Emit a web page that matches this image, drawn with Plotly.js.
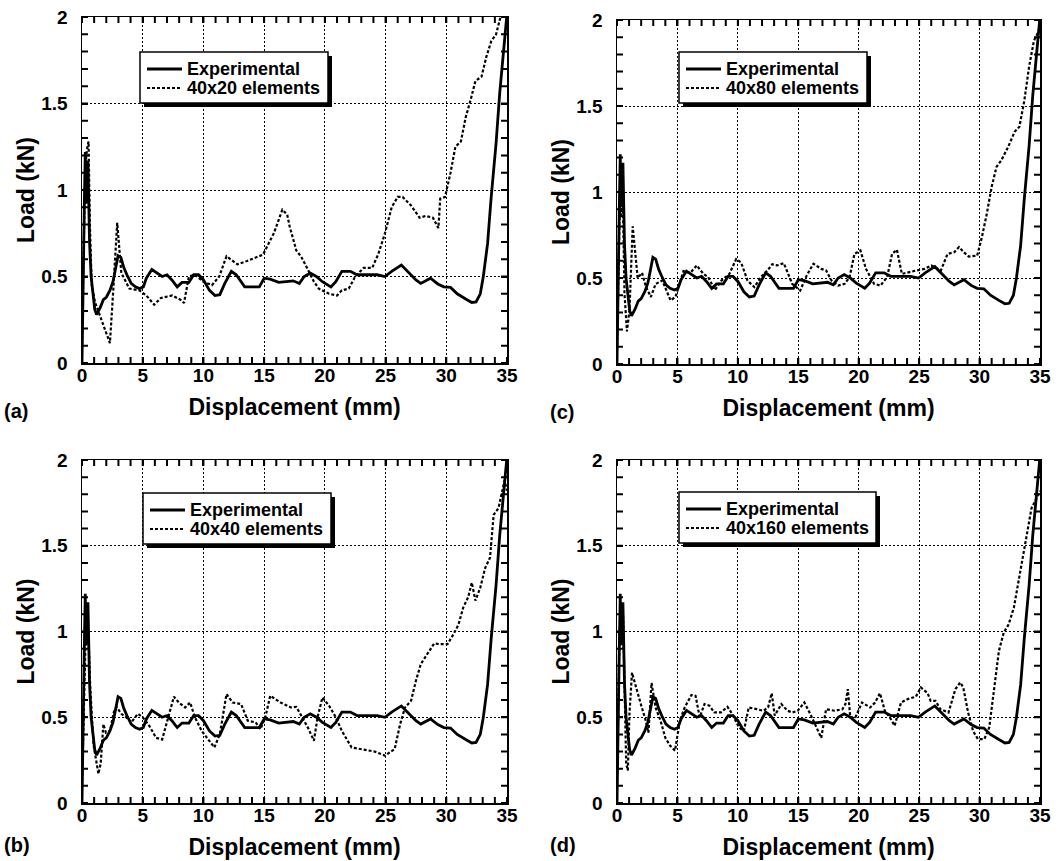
<!DOCTYPE html>
<html>
<head>
<meta charset="utf-8">
<script src="https://cdn.plot.ly/plotly-3.0.1.min.js"></script>
<style>
  html, body { margin: 0; padding: 0; background: #fff; }
  #chart { width: 1064px; height: 861px; }
</style>
</head>
<body>
<div id="chart"></div>
<script>
// ---------------- data ----------------
const xTicks = [0, 5, 10, 15, 20, 25, 30, 35];
const yTicks = [0, 0.5, 1, 1.5, 2];
const xMinorStep = 1;
const yMinorStep = 0.1;
const panelLabels = ["(a)", "(c)", "(b)", "(d)"];
const simNames = ["40x20 elements", "40x80 elements", "40x40 elements", "40x160 elements"];
const expName = "Experimental";

// Experimental curve (same test in every panel)
const expX = [0, 0.02, 0.05, 0.1, 0.15, 0.2, 0.27, 0.32, 0.38, 0.44, 0.49, 0.55, 0.62, 0.75, 0.9, 1.05, 1.2, 1.5, 1.76, 2.0, 2.3, 2.55, 2.75, 2.97, 3.2, 3.45, 3.7, 4.05, 4.4, 4.75, 5.05, 5.3, 5.75, 6.2, 6.6, 7.0, 7.4, 7.84, 8.24, 8.8, 9.2, 9.6, 10.0, 10.5, 10.95, 11.35, 11.76, 12.3, 12.7, 13.4, 14.2, 14.6, 15.0, 15.5, 16.2, 16.9, 17.4, 17.9, 18.3, 18.8, 19.3, 19.8, 20.5, 20.9, 21.4, 22.1, 22.65, 23.6, 24.3, 24.95, 25.5, 26.3, 26.8, 27.5, 27.9, 28.7, 29.3, 29.8, 30.35, 30.9, 31.6, 32.1, 32.45, 32.8, 33.05, 33.4, 33.7, 34.1, 34.4, 34.7, 35.0];
const expY = [0, 0.12, 0.24, 0.5, 0.75, 0.95, 1.22, 0.92, 1.12, 0.95, 1.17, 0.92, 0.7, 0.5, 0.4, 0.31, 0.28, 0.32, 0.366, 0.38, 0.42, 0.47, 0.54, 0.62, 0.61, 0.55, 0.51, 0.46, 0.44, 0.43, 0.44, 0.49, 0.54, 0.52, 0.50, 0.51, 0.48, 0.44, 0.466, 0.466, 0.51, 0.51, 0.48, 0.42, 0.39, 0.395, 0.46, 0.53, 0.51, 0.44, 0.44, 0.44, 0.49, 0.485, 0.466, 0.47, 0.475, 0.46, 0.50, 0.52, 0.50, 0.47, 0.44, 0.47, 0.53, 0.53, 0.51, 0.51, 0.51, 0.50, 0.53, 0.566, 0.53, 0.48, 0.46, 0.49, 0.457, 0.44, 0.437, 0.40, 0.37, 0.35, 0.353, 0.40, 0.50, 0.69, 0.96, 1.27, 1.56, 1.79, 2.02];

// (a) 40x20 elements
const simAx = [0, 0.03, 0.12, 0.22, 0.35, 0.45, 0.54, 0.65, 0.8, 1.08, 1.6, 2.3, 2.6, 2.9, 3.24, 3.9, 4.73, 5.3, 5.95, 6.5, 7.43, 8.1, 8.4, 8.8, 9.3, 10.0, 10.7, 11.3, 11.9, 12.8, 13.6, 14.9, 15.8, 16.5, 16.9, 17.1, 17.65, 18.05, 18.6, 19.1, 19.5, 20.35, 21.0, 21.4, 21.97, 22.5, 23.2, 23.9, 24.4, 24.95, 25.5, 26.0, 26.4, 27.1, 27.8, 28.3, 28.9, 29.35, 29.5, 29.9, 30.35, 30.75, 31.2, 31.6, 32.0, 32.4, 32.9, 33.3, 33.7, 34.1, 34.5, 34.8];
const simAy = [0.08, 0.25, 0.6, 0.95, 1.2, 1.25, 1.28, 0.8, 0.45, 0.35, 0.25, 0.115, 0.45, 0.81, 0.52, 0.43, 0.42, 0.39, 0.337, 0.376, 0.39, 0.366, 0.347, 0.5, 0.51, 0.47, 0.45, 0.5, 0.617, 0.57, 0.59, 0.626, 0.75, 0.886, 0.857, 0.79, 0.65, 0.615, 0.54, 0.47, 0.43, 0.40, 0.39, 0.42, 0.43, 0.50, 0.55, 0.55, 0.63, 0.75, 0.90, 0.96, 0.96, 0.91, 0.84, 0.85, 0.84, 0.78, 0.95, 0.96, 1.10, 1.25, 1.28, 1.42, 1.52, 1.63, 1.655, 1.77, 1.86, 1.90, 2.01, 2.1];

// (b) 40x40 elements
const simBx = [0, 0.05, 0.15, 0.25, 0.35, 0.45, 0.55, 0.68, 0.95, 1.35, 1.54, 1.76, 1.97, 2.3, 2.62, 2.84, 3.24, 3.65, 4.05, 4.6, 5.0, 5.54, 6.1, 6.6, 7.16, 7.57, 7.97, 8.5, 8.9, 9.3, 9.86, 10.4, 10.9, 11.35, 11.9, 12.4, 13.1, 13.65, 14.3, 14.7, 15.1, 15.5, 16.35, 17.2, 17.65, 18.05, 18.6, 19.1, 19.4, 19.8, 20.35, 20.9, 21.4, 22.2, 23.3, 24.1, 24.95, 25.75, 26.2, 26.6, 27.1, 27.5, 27.9, 28.5, 29.0, 29.5, 30.1, 30.6, 31.0, 31.4, 31.8, 32.1, 32.4, 32.8, 33.2, 33.6, 33.9, 34.3, 34.55, 34.8, 35.0];
const simBy = [0.1, 0.25, 0.6, 0.95, 1.12, 1.05, 0.95, 0.67, 0.34, 0.17, 0.23, 0.46, 0.41, 0.42, 0.53, 0.56, 0.52, 0.50, 0.47, 0.52, 0.50, 0.45, 0.38, 0.37, 0.52, 0.62, 0.586, 0.557, 0.586, 0.50, 0.42, 0.367, 0.324, 0.40, 0.635, 0.586, 0.577, 0.48, 0.47, 0.43, 0.50, 0.625, 0.586, 0.557, 0.56, 0.51, 0.44, 0.363, 0.50, 0.615, 0.567, 0.50, 0.42, 0.324, 0.31, 0.30, 0.276, 0.315, 0.46, 0.557, 0.596, 0.713, 0.81, 0.877, 0.93, 0.926, 0.926, 0.985, 1.04, 1.14, 1.2, 1.285, 1.18, 1.256, 1.37, 1.43, 1.68, 1.72, 1.8, 1.88, 1.82];

// (c) 40x80 elements
const simCx = [0, 0.05, 0.12, 0.2, 0.28, 0.35, 0.42, 0.5, 0.62, 0.82, 1.03, 1.3, 1.52, 1.71, 2.07, 2.39, 2.8, 3.2, 3.75, 4.43, 4.84, 5.5, 6.06, 6.6, 7.15, 7.55, 8.1, 8.64, 9.3, 9.86, 10.27, 10.8, 11.36, 11.9, 12.45, 12.85, 13.26, 13.8, 14.5, 15.16, 15.7, 16.25, 16.9, 17.3, 17.75, 18.3, 18.84, 19.24, 19.65, 20.14, 20.6, 21.27, 21.8, 22.35, 22.76, 23.16, 23.57, 24.1, 24.8, 25.46, 26.0, 26.8, 27.35, 27.9, 28.3, 28.7, 29.1, 29.8, 30.2, 30.6, 31.0, 31.4, 31.8, 32.35, 32.9, 33.3, 33.7, 34.1, 34.5, 34.86, 35.0];
const simCy = [0.08, 0.3, 0.65, 0.95, 1.1, 0.85, 1.08, 0.9, 0.41, 0.19, 0.31, 0.8, 0.66, 0.5, 0.53, 0.45, 0.39, 0.466, 0.485, 0.37, 0.39, 0.54, 0.53, 0.573, 0.524, 0.505, 0.43, 0.485, 0.524, 0.61, 0.59, 0.485, 0.447, 0.505, 0.544, 0.58, 0.573, 0.586, 0.466, 0.427, 0.515, 0.583, 0.553, 0.544, 0.485, 0.456, 0.466, 0.505, 0.64, 0.66, 0.553, 0.466, 0.456, 0.505, 0.64, 0.664, 0.524, 0.534, 0.544, 0.553, 0.573, 0.544, 0.64, 0.65, 0.68, 0.65, 0.625, 0.63, 0.74, 0.874, 1.03, 1.146, 1.184, 1.26, 1.35, 1.38, 1.53, 1.73, 1.88, 1.93, 1.97];

// (d) 40x160 elements
const simDx = [0, 0.05, 0.12, 0.2, 0.3, 0.4, 0.5, 0.62, 0.76, 0.9, 1.03, 1.24, 1.57, 1.97, 2.38, 2.6, 2.86, 3.19, 3.6, 4.0, 4.4, 4.8, 5.2, 5.6, 6.16, 6.5, 6.84, 7.24, 7.65, 8.05, 8.6, 9.14, 9.54, 10.1, 10.5, 10.9, 11.57, 12.1, 12.5, 12.8, 13.05, 13.6, 14.1, 14.5, 14.95, 15.5, 16.0, 16.5, 16.9, 17.3, 18.0, 18.65, 18.9, 19.1, 19.3, 19.73, 20.27, 20.95, 21.35, 21.76, 22.16, 22.57, 22.97, 23.5, 24.05, 24.73, 25.14, 25.7, 25.95, 26.35, 26.76, 27.43, 28.0, 28.4, 28.65, 29.05, 29.46, 29.86, 30.4, 30.8, 31.2, 31.6, 32.0, 32.4, 32.84, 33.24, 33.5, 33.9, 34.3, 34.6, 35.0];
const simDy = [0.1, 0.3, 0.65, 0.95, 1.1, 1.05, 1.1, 0.67, 0.23, 0.19, 0.52, 0.76, 0.67, 0.577, 0.48, 0.41, 0.70, 0.557, 0.48, 0.38, 0.334, 0.305, 0.48, 0.557, 0.63, 0.625, 0.5, 0.577, 0.567, 0.528, 0.528, 0.561, 0.518, 0.44, 0.42, 0.557, 0.547, 0.538, 0.557, 0.64, 0.51, 0.577, 0.538, 0.528, 0.538, 0.586, 0.518, 0.44, 0.38, 0.547, 0.538, 0.547, 0.577, 0.664, 0.5, 0.5, 0.586, 0.557, 0.586, 0.64, 0.538, 0.5, 0.45, 0.586, 0.606, 0.62, 0.674, 0.64, 0.596, 0.596, 0.547, 0.528, 0.664, 0.703, 0.674, 0.528, 0.42, 0.373, 0.373, 0.44, 0.674, 0.887, 0.994, 1.04, 1.14, 1.295, 1.39, 1.55, 1.72, 1.76, 1.82];

const simX = [simAx, simCx, simBx, simDx];
const simY = [simAy, simCy, simBy, simDy];

// ---------------- layout geometry ----------------
const W = 1064, H = 861;
const FONT = "Liberation Sans, Arial, Helvetica, sans-serif";
// plot frames in pixels: [left, right, top, bottom]  order: a, c, b, d
const frames = [
  [82, 507, 17, 363],
  [617, 1040, 20, 364],
  [82, 507, 460, 803],
  [617, 1040, 460, 803]
];
// legend boxes in pixels: [left, top, width, height]
const legendBox = [[140, 52, 188, 51], [679, 52, 188, 51], [143, 493, 188, 51], [679, 492, 197, 51]];
const labelPos = [[2, 411], [548, 412], [2, 845], [548, 845]];

const px = v => v / W;
const py = v => 1 - v / H;

const EXP_LINE = {color: "#000", width: 2.8};
const SIM_LINE = {color: "#000", width: 2.2, dash: "3px,2px"};
const TICK_LEN = 6;
const TICK_W = 2;

const traces = [];
const layout = {
  width: W, height: H,
  margin: {l: 0, r: 0, t: 0, b: 0},
  paper_bgcolor: "#fff", plot_bgcolor: "#fff",
  font: {family: FONT, color: "#000", weight: "bold"},
  showlegend: false,
  annotations: [],
  shapes: []
};

const xRange = [xTicks[0], xTicks[xTicks.length - 1]];
const yRange = [yTicks[0], yTicks[yTicks.length - 1]];

// positions of the small inward ticks (every minor step along each axis)
function steps(lo, hi, step) {
  const out = [];
  const n = Math.round((hi - lo) / step);
  for (let k = 0; k <= n; k++) out.push(+(lo + k * step).toFixed(6));
  return out;
}
const xMinorVals = steps(xRange[0], xRange[1], xMinorStep);
const yMinorVals = steps(yRange[0], yRange[1], yMinorStep);

for (let i = 0; i < 4; i++) {
  const sfx = i === 0 ? "" : String(i + 1);
  traces.push({
    x: expX, y: expY, type: "scatter", mode: "lines", name: expName,
    xaxis: "x" + sfx, yaxis: "y" + sfx, line: EXP_LINE
  });
  traces.push({
    x: simX[i], y: simY[i], type: "scatter", mode: "lines", name: simNames[i],
    xaxis: "x" + sfx, yaxis: "y" + sfx, line: SIM_LINE
  });

  const f = frames[i];
  const common = {
    showline: true, linecolor: "#000", linewidth: 1.5, mirror: "ticks",
    ticks: "inside", ticklen: TICK_LEN, tickwidth: TICK_W, tickcolor: "#000",
    showgrid: true, gridcolor: "#000", gridwidth: 1, griddash: "2px,2px",
    zeroline: false, fixedrange: true,
    tickfont: {family: FONT, size: 19, color: "#000", weight: "bold"}
  };
  layout["xaxis" + sfx] = Object.assign({}, common, {
    domain: [px(f[0]), px(f[1])], anchor: "y" + sfx,
    range: xRange,
    tickmode: "linear", tick0: xTicks[0], dtick: xTicks[1] - xTicks[0],
    ticklabelstandoff: -5,
    title: {text: "Displacement (mm)", standoff: 13,
            font: {family: FONT, size: 23, color: "#000", weight: "bold"}}
  });
  layout["yaxis" + sfx] = Object.assign({}, common, {
    domain: [py(f[3]), py(f[2])], anchor: "x" + sfx,
    range: yRange,
    tickmode: "linear", tick0: yTicks[0], dtick: yTicks[1] - yTicks[0],
    ticklabelstandoff: 9,
    title: {text: "Load (kN)", standoff: 0,
            font: {family: FONT, size: 23, color: "#000", weight: "bold"}}
  });

  // small inward ticks on all four sides (data position + fixed pixel length)
  const xr = "x" + sfx, yr = "y" + sfx;
  const bottomPath = xMinorVals.map(v => "M" + v + ",0L" + v + "," + TICK_LEN).join("");
  const topPath = xMinorVals.map(v => "M" + v + ",0L" + v + "," + (-TICK_LEN)).join("");
  const leftPath = yMinorVals.map(v => "M0," + v + "L" + TICK_LEN + "," + v).join("");
  const rightPath = yMinorVals.map(v => "M0," + v + "L" + (-TICK_LEN) + "," + v).join("");
  const tickLine = {color: "#000", width: TICK_W};
  layout.shapes.push({type: "path", xref: xr, yref: yr, ysizemode: "pixel", yanchor: yRange[0], path: bottomPath, line: tickLine, layer: "above"});
  layout.shapes.push({type: "path", xref: xr, yref: yr, ysizemode: "pixel", yanchor: yRange[1], path: topPath, line: tickLine, layer: "above"});
  layout.shapes.push({type: "path", xref: xr, yref: yr, xsizemode: "pixel", xanchor: xRange[0], path: leftPath, line: tickLine, layer: "above"});
  layout.shapes.push({type: "path", xref: xr, yref: yr, xsizemode: "pixel", xanchor: xRange[1], path: rightPath, line: tickLine, layer: "above"});

  // panel label
  layout.annotations.push({
    text: panelLabels[i], xref: "paper", yref: "paper",
    x: px(labelPos[i][0]), y: py(labelPos[i][1]),
    xanchor: "left", yanchor: "middle", showarrow: false,
    font: {family: FONT, size: 20, color: "#000", weight: "bold"}
  });

  // legend box with drop shadow
  const [L, T, BW, BH] = legendBox[i];
  const sh = 4;
  layout.shapes.push({
    type: "rect", xref: "paper", yref: "paper", layer: "above",
    x0: px(L + sh), x1: px(L + BW + sh), y0: py(T + BH + sh), y1: py(T + sh),
    fillcolor: "#000", line: {width: 0}
  });
  layout.shapes.push({
    type: "rect", xref: "paper", yref: "paper", layer: "above",
    x0: px(L), x1: px(L + BW), y0: py(T + BH), y1: py(T),
    fillcolor: "#fff", line: {color: "#000", width: 1.5}
  });
  const rows = [[expName, EXP_LINE, T + 17], [simNames[i], SIM_LINE, T + 36]];
  rows.forEach(function (r) {
    layout.shapes.push({
      type: "line", xref: "paper", yref: "paper", layer: "above",
      x0: px(L + 7), x1: px(L + 42), y0: py(r[2]), y1: py(r[2]),
      line: r[1]
    });
    layout.annotations.push({
      text: r[0], xref: "paper", yref: "paper",
      x: px(L + 45), y: py(r[2]), xanchor: "left", yanchor: "middle",
      showarrow: false,
      font: {family: FONT, size: 18, color: "#000", weight: "bold"}
    });
  });
}

Plotly.newPlot("chart", traces, layout, {displayModeBar: false, staticPlot: true});
</script>
</body>
</html>
